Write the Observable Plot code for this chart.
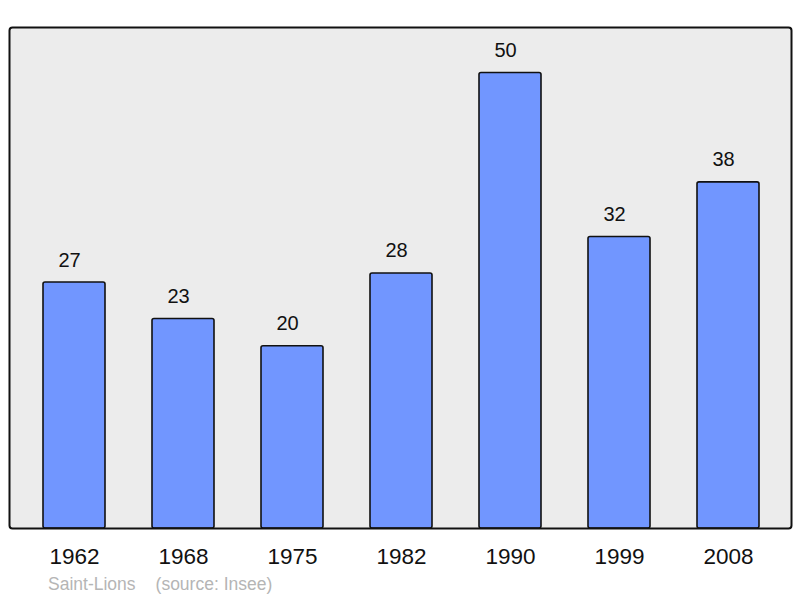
<!DOCTYPE html>
<html>
<head>
<meta charset="utf-8">
<script src="https://cdn.jsdelivr.net/npm/d3@7"></script>
<script src="https://cdn.jsdelivr.net/npm/@observablehq/plot@0.6"></script>
<style>
  html, body { margin: 0; padding: 0; background: #fff; }
  body { width: 800px; height: 598px; overflow: hidden; font-family: "Liberation Sans", Arial, sans-serif; }
  #chart svg { display: block; }
  #caption { font-size: 17.5px; color: #b5b5b5; line-height: 20px; padding-left: 48px; margin-top: 4px; white-space: pre; }
  #caption .src { margin-left: 20px; }
</style>
</head>
<body>
<div id="chart"></div>
<div id="caption"><span>Saint-Lions</span><span class="src">(source: Insee)</span></div>
<script>
const years = ["1962", "1968", "1975", "1982", "1990", "1999", "2008"];
const population = [27, 23, 20, 28, 50, 32, 38];

const data = years.map((y, i) => ({year: y, value: population[i]}));

const chart = Plot.plot({
  width: 800,
  height: 570,
  marginTop: 27,
  marginBottom: 42,
  marginLeft: 9,
  marginRight: 9,
  style: {fontFamily: "Liberation Sans, Arial, sans-serif", background: "transparent", overflow: "visible"},
  x: {domain: years, range: [18, 784.5], paddingInner: 0.427, paddingOuter: 0.2135, label: null},
  y: {domain: [0, 55], axis: null},
  marks: [
    Plot.frame({fill: "#ececec", stroke: "none", rx: 3}),
    Plot.barY(data, {x: "year", y: "value", fill: "#7196ff", stroke: "#111", strokeWidth: 1.6, rx: 2}),
    Plot.text(data, {x: "year", y: "value", text: d => String(d.value), lineAnchor: "bottom", dy: -16, dx: -5, fontSize: 20, fill: "#111"}),
    Plot.frame({fill: "none", stroke: "#111", strokeWidth: 2, rx: 3}),
    Plot.axisX({tickSize: 0, tickPadding: 20, fontSize: 22.5, label: null, color: "#111"})
  ]
});
document.getElementById("chart").appendChild(chart);
</script>
</body>
</html>
